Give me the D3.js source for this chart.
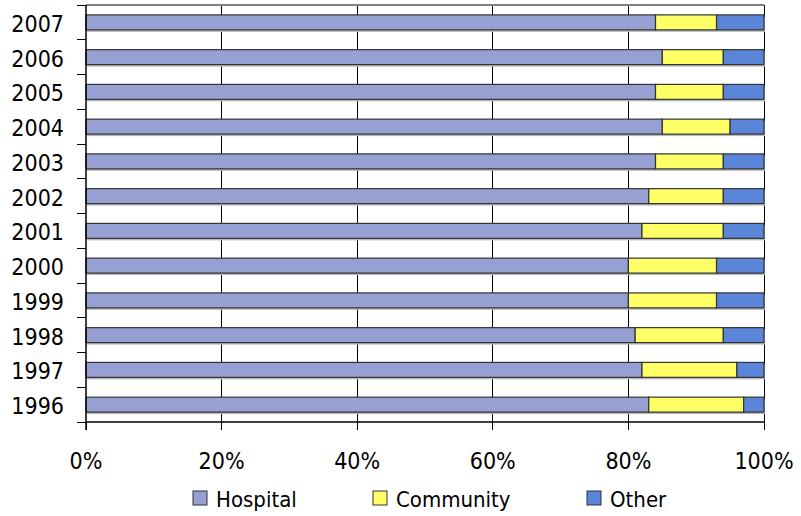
<!DOCTYPE html>
<html>
<head>
<meta charset="utf-8">
<script src="https://cdn.jsdelivr.net/npm/d3@7"></script>
<style>
  html, body { margin: 0; padding: 0; background: #fff; }
  text { font-family: "DejaVu Sans Condensed", "DejaVu Sans", sans-serif; font-stretch: condensed; fill: #000; }
</style>
</head>
<body>
<svg id="chart" width="801" height="516"></svg>
<script>
// Share of spending by setting, per year (percent)
const years = ["2007","2006","2005","2004","2003","2002","2001","2000","1999","1998","1997","1996"];
const hospital  = [84, 85, 84, 85, 84, 83, 82, 80, 80, 81, 82, 83];
const community = [ 9,  9, 10, 10, 10, 11, 12, 13, 13, 13, 14, 14];
const other     = [ 7,  6,  6,  5,  6,  6,  6,  7,  7,  6,  4,  3];
const seriesNames = ["Hospital", "Community", "Other"];
const seriesColors = ["#96A0D2", "#FFFF66", "#5B85D9"];
const xTicks = [0, 20, 40, 60, 80, 100];

const svg = d3.select("#chart");
const plotLeft = 86, plotRight = 764, plotTop = 5, plotBottom = 422;

const rows = years.map((y, i) => ({ year: y, Hospital: hospital[i], Community: community[i], Other: other[i] }));
const stacked = d3.stack().keys(seriesNames)(rows);

const x = d3.scaleLinear().domain([0, 100]).range([plotLeft, plotRight]);
const y = d3.scaleBand().domain(years).range([plotTop, plotBottom]).paddingInner(0.57).paddingOuter(0.285);
const band = d3.scaleBand().domain(years).range([plotTop, plotBottom]);
const color = d3.scaleOrdinal().domain(seriesNames).range(seriesColors);

// vertical gridlines
svg.append("g").selectAll("line").data(xTicks.slice(1, -1)).join("line")
  .attr("x1", d => x(d)).attr("x2", d => x(d))
  .attr("y1", plotTop).attr("y2", plotBottom)
  .attr("stroke", "#000").attr("stroke-width", 1).attr("shape-rendering", "crispEdges");

// top and right borders of the plot area
svg.append("line").attr("x1", plotLeft).attr("x2", plotRight).attr("y1", plotTop).attr("y2", plotTop)
  .attr("stroke", "#808080").attr("stroke-width", 2).attr("shape-rendering", "crispEdges");
svg.append("line").attr("x1", plotRight).attr("x2", plotRight).attr("y1", plotTop).attr("y2", plotBottom)
  .attr("stroke", "#000").attr("stroke-width", 1).attr("shape-rendering", "crispEdges");

// bar shadows
svg.append("g").selectAll("rect").data(rows).join("rect")
  .attr("x", plotLeft + 1).attr("width", x(100) - plotLeft)
  .attr("y", d => y(d.year) + 2).attr("height", y.bandwidth())
  .attr("fill", "#b8b8b8");

// stacked bars
svg.append("g").selectAll("g").data(stacked).join("g")
  .attr("fill", d => color(d.key))
  .selectAll("rect").data(d => d).join("rect")
  .attr("x", d => x(d[0]))
  .attr("width", d => x(d[1]) - x(d[0]))
  .attr("y", d => y(d.data.year))
  .attr("height", y.bandwidth())
  .attr("stroke", "#333").attr("stroke-width", 1.2);

// left category axis: ticks at band boundaries
const yAxis = svg.append("g");
yAxis.append("line").attr("x1", plotLeft).attr("x2", plotLeft).attr("y1", plotTop).attr("y2", plotBottom + 8)
  .attr("stroke", "#000").attr("stroke-width", 1.5);
yAxis.selectAll("line.tk").data(years.concat(["end"])).join("line").attr("class", "tk")
  .attr("x1", plotLeft - 9).attr("x2", plotLeft)
  .attr("y1", (d, i) => i < years.length ? band(d) : plotBottom)
  .attr("y2", (d, i) => i < years.length ? band(d) : plotBottom)
  .attr("stroke", "#000").attr("stroke-width", 1).attr("shape-rendering", "crispEdges");
yAxis.selectAll("text").data(years).join("text")
  .attr("x", 64).attr("y", d => band(d) + band.bandwidth() / 2 + 9.5)
  .attr("text-anchor", "end").attr("font-size", 23).text(d => d);

// bottom value axis
const xAxis = svg.append("g");
xAxis.append("line").attr("x1", plotLeft).attr("x2", plotRight).attr("y1", plotBottom).attr("y2", plotBottom)
  .attr("stroke", "#000").attr("stroke-width", 1.5);
xAxis.selectAll("line.tk").data(xTicks).join("line").attr("class", "tk")
  .attr("x1", d => x(d)).attr("x2", d => x(d)).attr("y1", plotBottom).attr("y2", plotBottom + 8)
  .attr("stroke", "#000").attr("stroke-width", 1).attr("shape-rendering", "crispEdges");
xAxis.selectAll("text").data(xTicks).join("text")
  .attr("x", d => x(d)).attr("y", 468.5)
  .attr("text-anchor", "middle").attr("font-size", 23).text(d => d + "%");

// legend
const legendX = [193, 373, 587];
const legend = svg.append("g").selectAll("g").data(seriesNames).join("g")
  .attr("transform", (d, i) => `translate(${legendX[i]},491)`);
legend.append("rect").attr("width", 14).attr("height", 14)
  .attr("fill", d => color(d)).attr("stroke", "#333").attr("stroke-width", 1);
legend.append("text").attr("x", 23).attr("y", 15.5).attr("font-size", 22).text(d => d);
</script>
</body>
</html>
